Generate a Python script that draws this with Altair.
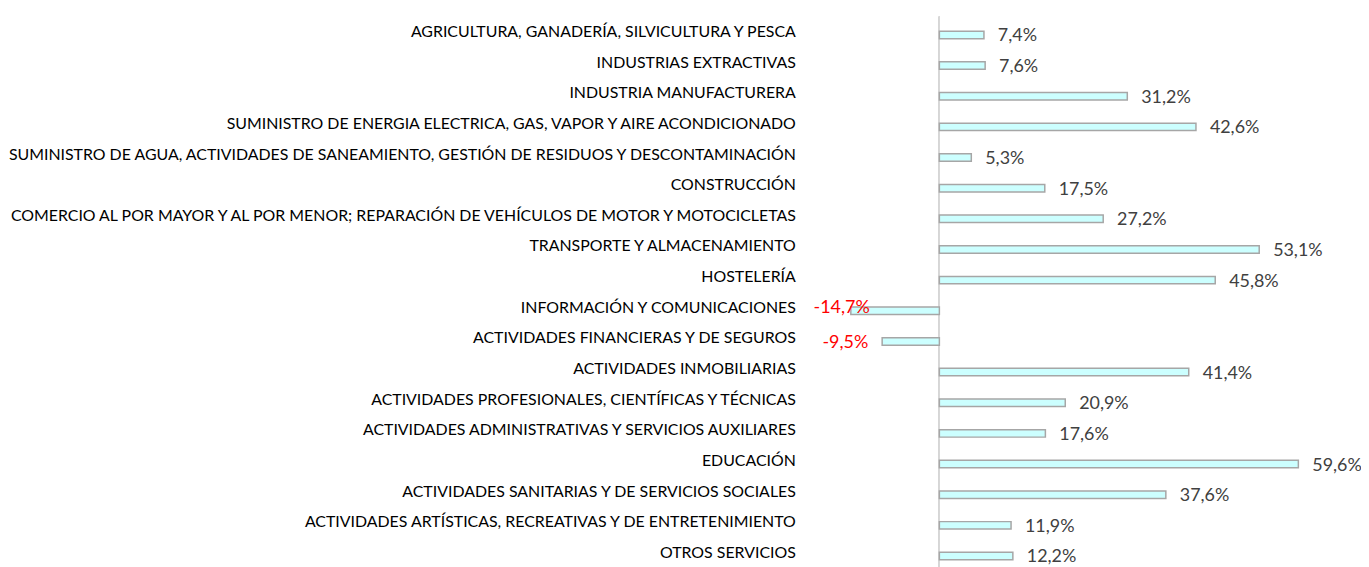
import altair as alt
import pandas as pd

sectores = [
    "AGRICULTURA, GANADERÍA, SILVICULTURA Y PESCA",
    "INDUSTRIAS EXTRACTIVAS",
    "INDUSTRIA MANUFACTURERA",
    "SUMINISTRO DE ENERGIA ELECTRICA, GAS, VAPOR Y AIRE ACONDICIONADO",
    "SUMINISTRO DE AGUA, ACTIVIDADES DE SANEAMIENTO, GESTIÓN DE RESIDUOS Y DESCONTAMINACIÓN",
    "CONSTRUCCIÓN",
    "COMERCIO AL POR MAYOR Y AL POR MENOR; REPARACIÓN DE VEHÍCULOS DE MOTOR Y MOTOCICLETAS",
    "TRANSPORTE Y ALMACENAMIENTO",
    "HOSTELERÍA",
    "INFORMACIÓN Y COMUNICACIONES",
    "ACTIVIDADES FINANCIERAS Y DE SEGUROS",
    "ACTIVIDADES INMOBILIARIAS",
    "ACTIVIDADES PROFESIONALES, CIENTÍFICAS Y TÉCNICAS",
    "ACTIVIDADES ADMINISTRATIVAS Y SERVICIOS AUXILIARES",
    "EDUCACIÓN",
    "ACTIVIDADES SANITARIAS Y DE SERVICIOS SOCIALES",
    "ACTIVIDADES ARTÍSTICAS, RECREATIVAS Y DE ENTRETENIMIENTO",
    "OTROS SERVICIOS",
]
valores = [7.4, 7.6, 31.2, 42.6, 5.3, 17.5, 27.2, 53.1, 45.8, -14.7, -9.5,
           41.4, 20.9, 17.6, 59.6, 37.6, 11.9, 12.2]
etiquetas = ["7,4%", "7,6%", "31,2%", "42,6%", "5,3%", "17,5%", "27,2%", "53,1%",
             "45,8%", "-14,7%", "-9,5%", "41,4%", "20,9%", "17,6%", "59,6%",
             "37,6%", "11,9%", "12,2%"]

df = pd.DataFrame({"sector": sectores, "valor": valores, "etiqueta": etiquetas})

FONT = "Lato"

xscale = alt.Scale(domain=[-15, 70], nice=False, zero=False)
x = alt.X("valor:Q", scale=xscale, axis=None)
y = alt.Y(
    "sector:N",
    sort=None,
    scale=alt.Scale(domain=sectores, paddingInner=0, paddingOuter=0),
    axis=alt.Axis(
        title=None, domain=False, ticks=False, grid=False,
        labelPadding=54, labelFont=FONT, labelFontSize=16,
        labelColor="#000000", labelLimit=1000,
    ),
)

base = alt.Chart(df)

zero = base.mark_rule(color="#D9D9D9", strokeWidth=1).encode(
    x=alt.XDatum(0, scale=xscale, axis=None)
)

bars = base.mark_bar(
    size=7.5, yOffset=3, fill="#CCFFFF", stroke="#A6A6A6", strokeWidth=1.5
).encode(x=x, y=y)

pos = base.transform_filter("datum.valor >= 0").mark_text(
    align="left", baseline="middle", dx=14, yOffset=4.5,
    font=FONT, fontSize=18, color="#404040"
).encode(x=x, y=y, text="etiqueta:N")

neg = base.transform_filter(
    "datum.valor < 0 && datum.valor > -10"
).mark_text(
    align="right", baseline="middle", dx=-14, yOffset=4.5,
    font=FONT, fontSize=18, color="#FF0000"
).encode(x=x, y=y, text="etiqueta:N")

neg_info = base.transform_filter(
    "datum.valor <= -10"
).mark_text(
    align="right", baseline="middle", dx=19, yOffset=0.5,
    font=FONT, fontSize=18, color="#FF0000"
).encode(x=x, y=y, text="etiqueta:N")

chart = alt.layer(zero, bars, pos, neg, neg_info).properties(
    width=515, height=555,
    autosize=alt.AutoSizeParams(type="none"),
    padding={"left": 846, "top": 7, "right": 0, "bottom": 0},
).configure_view(strokeWidth=0)

chart.save("out.html", embed_options={"renderer": "svg", "actions": False})
